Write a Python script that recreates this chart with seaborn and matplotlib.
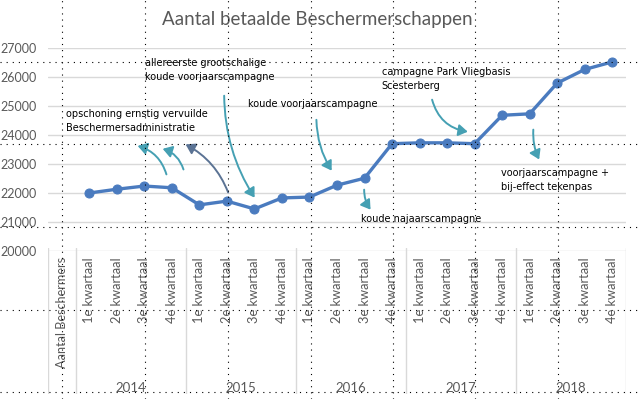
import pandas as pd
import matplotlib.pyplot as plt
import seaborn as sns
from matplotlib.lines import Line2D

# Gegevens
jaren = ["2014", "2015", "2016", "2017", "2018"]
kwartalen = ["1e kwartaal", "2e kwartaal", "3e kwartaal", "4e kwartaal"]
aantal = [22000, 22130, 22240, 22180,
          21590, 21720, 21450, 21830,
          21860, 22270, 22510, 23700,
          23730, 23730, 23700, 24680,
          24730, 25790, 26260, 26520]
kop_label = "Aantal Beschermers"
y_ticks = [20000, 21000, 22000, 23000, 24000, 25000, 26000, 27000]

sns.set_style("white")
plt.rcParams["font.family"] = ["Lato", "DejaVu Sans"]

grijs = "#595959"
lijn = "#d9d9d9"
blauw = "#4a7bbf"
teal = "#45a0b3"

df = pd.DataFrame({
    "pos": range(1, len(aantal) + 1),
    "aantal": aantal,
})

W, H = 640, 399
fig = plt.figure(figsize=(W / 100, H / 100), dpi=100)

# Grafiekgebied
ax = fig.add_axes([48 / W, 1 - 251 / H, 578 / W, 203 / H])
sns.lineplot(data=df, x="pos", y="aantal", ax=ax, color=blauw, linewidth=2.4,
             marker="o", markersize=6.5, markeredgecolor=blauw, zorder=3)
ax.set_xlim(-0.5, 20.5)
ax.set_ylim(20000, 27000)
ax.set_yticks(y_ticks)
ax.set_yticklabels([str(t) for t in y_ticks], color=grijs, fontsize=9)
ax.tick_params(axis="y", length=0, pad=8)
ax.set_xticks([])
ax.set_xlabel("")
ax.set_ylabel("")
for s in ax.spines.values():
    s.set_visible(False)
for t in y_ticks:
    ax.axhline(t, color=lijn, lw=1, zorder=1)
fig.text(317 / W, 1 - 19 / H, "Aantal betaalde Beschermerschappen", color=grijs,
         fontsize=13.5, ha="center", va="center")

# Categorie-as (twee niveaus)
ax2 = fig.add_axes([48 / W, 5 / H, 578 / W, 146 / H])
ax2.set_xlim(-0.5, 20.5)
ax2.set_ylim(0, 1)
ax2.axis("off")
for xv in [-0.5, 0.5, 4.5, 8.5, 12.5, 16.5, 20.5]:
    ax2.axvline(xv, color=lijn, lw=1)
ax2.text(0, 0.937, kop_label, rotation=90, ha="center", va="top", color=grijs, fontsize=9.2)
for j, jaar in enumerate(jaren):
    for k, kw in enumerate(kwartalen):
        ax2.text(1 + 4 * j + k, 0.937, kw, rotation=90, ha="center", va="top",
                 color=grijs, fontsize=9.3)
    ax2.text(2.5 + 4 * j, 0.04, jaar, ha="center", va="center", color=grijs, fontsize=9.5)

# Toelichtingen met pijlen
tekst = dict(fontsize=7, family="DejaVu Sans", color="black", linespacing=1.45,
             ha="left", va="center", zorder=5)
ax.text(0.15, 24480, "opschoning ernstig vervuilde\nBeschermersadministratie", **tekst)
ax.text(3.03, 26240, "allereerste grootschalige\nkoude voorjaarscampagne", **tekst)
ax.text(6.77, 25070, "koude voorjaarscampagne", **tekst)
ax.text(10.88, 21100, "koude najaarscampagne", **tekst)
ax.text(11.63, 25930, "campagne Park Vliegbasis\nScesterberg", **tekst)
ax.text(15.97, 22450, "voorjaarscampagne +\nbij-effect tekenpas", **tekst)

pijlen = [
    ((3.83, 22550), (2.66, 23650), 0.3, teal),
    ((4.45, 22720), (3.57, 23550), 0.3, teal),
    ((6.08, 21930), (4.41, 23720), 0.2, "#5b7394"),
    ((5.90, 25450), (7.06, 21760), 0.15, teal),
    ((9.25, 24620), (9.86, 22690), 0.15, teal),
    ((10.99, 22210), (11.28, 21350), 0.2, teal),
    ((13.43, 25310), (14.85, 24100), 0.35, teal),
    ((17.14, 24280), (17.39, 23070), 0.15, teal),
]
for start, eind, rad, kleur in pijlen:
    ax.annotate("", xy=eind, xytext=start, annotation_clip=False, zorder=4,
                arrowprops=dict(arrowstyle="-|>,head_length=0.55,head_width=0.35",
                                connectionstyle=f"arc3,rad={rad}", color=kleur,
                                lw=1.4, mutation_scale=10))

# Stippellijnen (pagina-indeling)
for yp in [62, 144, 227, 310, 392]:
    fig.add_artist(Line2D([0, 1], [1 - yp / H] * 2, transform=fig.transFigure,
                          color="black", lw=0.8, ls=(0, (1, 4.5)), zorder=10))
for xp in [62, 145, 228, 311, 393, 475, 558]:
    fig.add_artist(Line2D([xp / W] * 2, [0, 1], transform=fig.transFigure,
                          color="black", lw=0.8, ls=(0, (1, 4.5)), zorder=10))

fig.savefig("out.png", dpi=100)
